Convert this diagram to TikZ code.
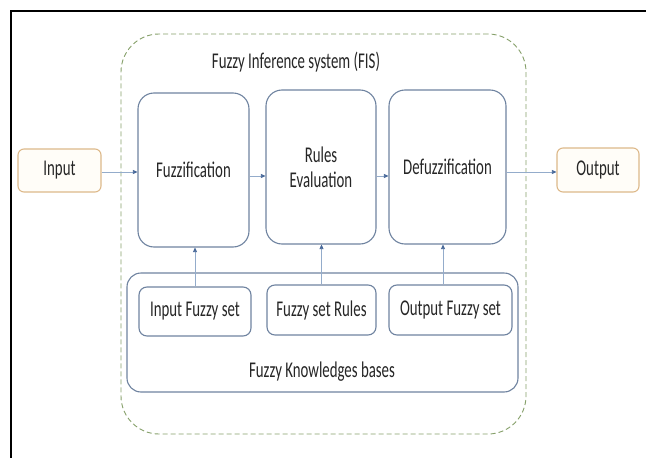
\documentclass[tikz,border=0pt]{standalone}
\usepackage{fontspec}
\setmainfont{Carlito}[FakeStretch=0.66]
\usetikzlibrary{arrows.meta}
\definecolor{boxline}{HTML}{6F83A0}
\definecolor{ioline}{HTML}{DDB98A}
\definecolor{iofill}{HTML}{FFFDF8}
\definecolor{dashline}{HTML}{86A06A}
\definecolor{arrline}{HTML}{94ACCB}
\definecolor{arrtip}{HTML}{4A6A9A}
\definecolor{txt}{HTML}{262626}
\tikzset{
  x=1pt, y=-1pt,
  every node/.style={font=\fontsize{22.5}{25}\selectfont, text=txt},
  mainbox/.style={draw=boxline, line width=1.1pt, rounded corners=16pt, inner sep=0pt, align=center},
  subbox/.style={draw=boxline, line width=1.1pt, rounded corners=8pt, inner sep=0pt, align=center},
  iobox/.style={draw=ioline, fill=iofill, line width=1.1pt, rounded corners=6pt, inner sep=0pt},
  flow/.style={draw=arrline, line width=0.7pt, -{Triangle[length=4.5pt,width=4pt,fill=arrtip,color=arrtip]}},
}
\begin{document}
\begin{tikzpicture}
\useasboundingbox (0,0) rectangle (646,458);
\fill[white] (0,0) rectangle (646,458);
% frame (top and left)
\draw[black, line width=1.2pt] (11,458) -- (11,11) -- (646,11);
% dashed FIS container
\node[draw=dashline, dash pattern=on 5pt off 3pt, line width=0.9pt, rounded corners=38pt, minimum width=405pt, minimum height=400pt, inner sep=0pt] (fis) at (323.5,234) {};
\node (fistitle) at (296,62) {Fuzzy Inference system (FIS)};
% knowledge base
\node[draw=boxline, line width=1.1pt, rounded corners=14pt, minimum width=391pt, minimum height=119pt, inner sep=0pt] (kb) at (322.5,332.5) {};
\node (kbtitle) at (322,372) {Fuzzy Knowledges bases};
% input / output
\node[iobox, minimum width=83pt, minimum height=43pt] (in) at (59.5,170.5) {Input};
\node[iobox, minimum width=82pt, minimum height=44pt] (out) at (598,170) {Output};
% main process boxes
\node[mainbox, minimum width=111pt, minimum height=154pt] (fuz) at (193.5,170) {Fuzzification};
\node[mainbox, minimum width=110pt, minimum height=154pt] (rul) at (321,167) {Rules\\[0pt]Evaluation};
\node[mainbox, minimum width=117pt, minimum height=154pt] (def) at (447.5,167) {Defuzzification};
% sub boxes
\node[subbox, minimum width=112pt, minimum height=49pt] (ifs) at (195,311.5) {Input Fuzzy set};
\node[subbox, minimum width=109pt, minimum height=50pt] (fsr) at (321.5,310) {Fuzzy set Rules};
\node[subbox, minimum width=123pt, minimum height=50pt] (ofs) at (450.5,310) {Output Fuzzy set};
% arrows
\draw[flow] (in.east |- 0,172) -- (fuz.west |- 0,172);
\draw[flow] (fuz.east |- 0,176) -- (rul.west |- 0,176);
\draw[flow] (rul.east |- 0,176) -- (def.west |- 0,176);
\draw[flow] (def.east |- 0,172) -- (out.west |- 0,172);
\draw[flow] (ifs.north) -- (fuz.south -| ifs.north);
\draw[flow] (fsr.north) -- (rul.south -| fsr.north);
\draw[flow] (ofs.north -| 443,0) -- (def.south -| 443,0);
\end{tikzpicture}
\end{document}
